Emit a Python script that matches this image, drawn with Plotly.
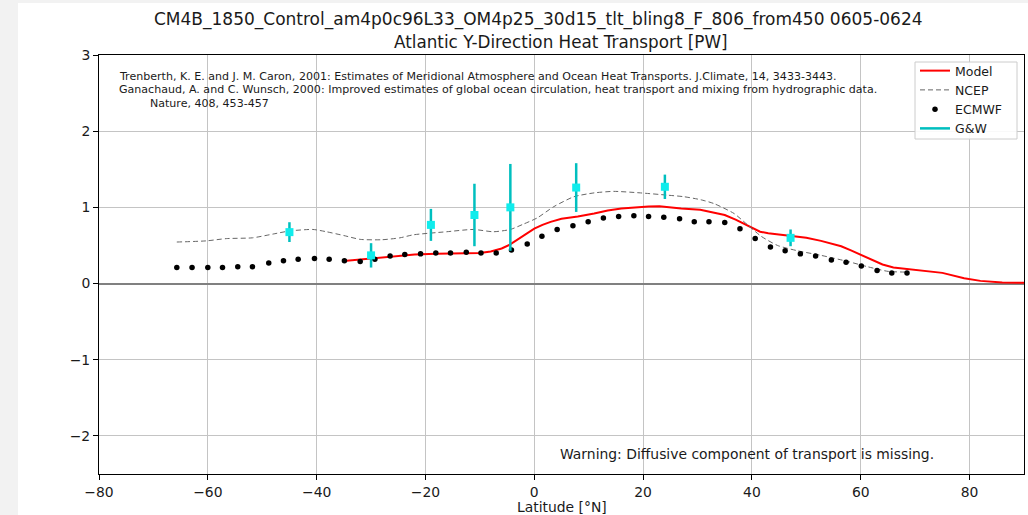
import plotly.graph_objects as go

# ---------------- data ----------------
model_lat = [-34.5, -30, -26, -22, -18, -14, -10, -8, -6, -4.5, -3, -1.5, 0, 1.5, 3, 5, 8, 11,
             13.5, 16, 18.5, 21, 23, 25, 27, 30.5, 33, 35, 37, 38.5, 40, 41.5, 43, 45, 47.5,
             50, 52.7, 55, 56.4, 58.2, 60, 62, 64, 66, 70, 75, 79, 82, 86, 90]
model_val = [0.30, 0.33, 0.355, 0.38, 0.39, 0.395, 0.40, 0.42, 0.46, 0.51, 0.58, 0.66, 0.72,
             0.77, 0.81, 0.85, 0.88, 0.92, 0.96, 0.985, 1.00, 1.01, 1.015, 1.00, 0.985, 0.97,
             0.93, 0.90, 0.84, 0.79, 0.73, 0.68, 0.66, 0.645, 0.625, 0.60, 0.56, 0.52, 0.49,
             0.435, 0.38, 0.31, 0.25, 0.21, 0.18, 0.14, 0.07, 0.035, 0.015, 0.01]

ncep_lat = [-65.7, -60.3, -56.6, -51.8, -48, -45, -40.7, -38.2, -35, -32, -28, -24.7, -22.2,
            -16.1, -11.2, -7.5, -4.4, -2, 0.5, 3.6, 7.3, 11, 14.6, 19.5, 24.5, 27.5, 30.6, 33,
            36.7, 39.2, 41.7, 44.7, 48.4, 52.7, 57.6, 61.3, 65, 68.7]
ncep_val = [0.545, 0.56, 0.59, 0.60, 0.65, 0.69, 0.71, 0.68, 0.63, 0.58, 0.575, 0.60, 0.64,
            0.68, 0.71, 0.68, 0.71, 0.78, 0.86, 1.01, 1.14, 1.19, 1.21, 1.19, 1.16, 1.14, 1.10,
            1.05, 0.92, 0.77, 0.62, 0.50, 0.43, 0.37, 0.29, 0.22, 0.16, 0.15]

ecmwf_lat = [-65.7, -62.9, -60.0, -57.3, -54.5, -51.8, -48.8, -46.1, -43.4, -40.4, -37.7,
             -34.9, -32.0, -29.3, -26.5, -23.8, -20.9, -18.1, -15.4, -12.5, -9.8, -7.0, -4.2,
             -1.3, 1.4, 4.2, 7.1, 9.9, 12.7, 15.5, 18.3, 21.0, 23.8, 26.7, 29.4, 32.1, 35.0,
             37.8, 40.6, 43.4, 46.1, 48.9, 51.7, 54.6, 57.3, 60.1, 63.0, 65.7, 68.5]
ecmwf_val = [0.21, 0.21, 0.21, 0.21, 0.22, 0.22, 0.27, 0.30, 0.32, 0.33, 0.32, 0.30, 0.29,
             0.32, 0.36, 0.38, 0.39, 0.40, 0.40, 0.41, 0.40, 0.40, 0.44, 0.52, 0.62, 0.71,
             0.76, 0.81, 0.86, 0.88, 0.89, 0.88, 0.87, 0.85, 0.81, 0.81, 0.80, 0.72, 0.59,
             0.48, 0.43, 0.39, 0.36, 0.31, 0.28, 0.23, 0.17, 0.14, 0.14]

gw_lat = [-45, -30, -19, -11, -4.4, 7.7, 24, 47.1]
gw_val = [0.675, 0.37, 0.77, 0.90, 1.00, 1.26, 1.27, 0.60]
gw_err = [0.13, 0.16, 0.21, 0.41, 0.57, 0.32, 0.16, 0.11]

x_ticks = [-80, -60, -40, -20, 0, 20, 40, 60, 80]
y_ticks = [-2, -1, 0, 1, 2, 3]

title_1 = "CM4B_1850_Control_am4p0c96L33_OM4p25_30d15_tlt_bling8_F_806_from450 0605-0624"
title_2 = "Atlantic Y-Direction Heat Transport [PW]"
ref_1 = ("Trenberth, K. E. and J. M. Caron, 2001: Estimates of Meridional Atmosphere and "
         "Ocean Heat Transports. J.Climate, 14, 3433-3443.")
ref_2 = ("Ganachaud, A. and C. Wunsch, 2000: Improved estimates of global ocean circulation, "
         "heat transport and mixing from hydrographic data.")
ref_3 = "Nature, 408, 453-457"
warning = "Warning: Diffusive component of transport is missing."
xlabel = "Latitude [°N]"

# ---------------- layout geometry ----------------
W, H = 1028, 515
L, R, T, B = 99, 4, 55, 41
PW, PH = W - L - R, H - T - B


def px_x(p):
    return (p - L) / PW


def px_y(p):
    return (H - B - p) / PH


FONT = "DejaVu Sans"
TXT = "#1a1a1a"

fig = go.Figure()
fig.add_trace(go.Scatter(x=model_lat, y=model_val, mode="lines", name="Model",
                         line=dict(color="#ff0000", width=2)))
fig.add_trace(go.Scatter(x=ncep_lat, y=ncep_val, mode="lines", name="NCEP",
                         line=dict(color="#666666", width=1, dash="5px,3px", shape="spline",
                                   smoothing=0.6)))
fig.add_trace(go.Scatter(x=ecmwf_lat, y=ecmwf_val, mode="markers", name="ECMWF",
                         marker=dict(color="black", size=5.5)))
fig.add_trace(go.Scatter(x=[None], y=[None], mode="lines", name="G&W",
                         line=dict(color="#00bfbf", width=2.5)))
fig.add_trace(go.Scatter(x=gw_lat, y=gw_val, mode="markers", name="G&W", showlegend=False,
                         marker=dict(symbol="square", size=8, color="#10ecec"),
                         error_y=dict(type="data", array=gw_err, color="#00bfbf",
                                      thickness=2.5, width=0)))

annotations = [
    dict(text=title_1, x=px_x(538), y=px_y(20), xref="paper", yref="paper",
         xanchor="center", yanchor="middle", showarrow=False,
         font=dict(family=FONT, size=17, color=TXT)),
    dict(text=title_2, x=px_x(561), y=px_y(42), xref="paper", yref="paper",
         xanchor="center", yanchor="middle", showarrow=False,
         font=dict(family=FONT, size=16.8, color=TXT)),
    dict(text=ref_1, x=px_x(117), y=px_y(76), xref="paper", yref="paper",
         xanchor="left", yanchor="middle", showarrow=False,
         font=dict(family=FONT, size=11.05, color=TXT)),
    dict(text=ref_2, x=px_x(117), y=px_y(90), xref="paper", yref="paper",
         xanchor="left", yanchor="middle", showarrow=False,
         font=dict(family=FONT, size=11.05, color=TXT)),
    dict(text=ref_3, x=px_x(148), y=px_y(103), xref="paper", yref="paper",
         xanchor="left", yanchor="middle", showarrow=False,
         font=dict(family=FONT, size=11.05, color=TXT)),
    dict(text=warning, x=px_x(558), y=px_y(454), xref="paper", yref="paper",
         xanchor="left", yanchor="middle", showarrow=False,
         font=dict(family=FONT, size=13.9, color=TXT)),
    dict(text=xlabel, x=0.5, y=px_y(507), xref="paper", yref="paper",
         xanchor="center", yanchor="middle", showarrow=False,
         font=dict(family=FONT, size=13.9, color=TXT)),
]

shapes = [
    dict(type="rect", xref="paper", yref="paper", layer="below",
         x0=px_x(18), x1=px_x(W + 10), y0=px_y(H + 10), y1=px_y(3),
         fillcolor="white", line=dict(width=0)),
    # legend frame
    dict(type="rect", xref="paper", yref="paper", layer="above",
         x0=px_x(915), x1=px_x(1017), y0=px_y(139), y1=px_y(62),
         fillcolor="rgba(255,255,255,0.9)", line=dict(color="#cccccc", width=1)),
]

fig.update_layout(
    width=W, height=H,
    margin=dict(l=L, r=R, t=T, b=B, pad=0),
    paper_bgcolor="#f2f2f2",
    plot_bgcolor="white",
    font=dict(family=FONT, size=13.9, color=TXT),
    showlegend=True,
    legend=dict(x=px_x(915), y=px_y(56), xanchor="left", yanchor="top",
                bgcolor="rgba(0,0,0,0)", borderwidth=0,
                font=dict(family=FONT, size=12.5, color=TXT), tracegroupgap=0,
                itemwidth=30),
    annotations=annotations,
    shapes=shapes,
    xaxis=dict(range=[-80, 90], tickvals=x_ticks, showgrid=True, gridcolor="#c4c4c4",
               gridwidth=1, zeroline=False, showline=True, linecolor="black", linewidth=1,
               mirror=True, ticks="outside", ticklen=5, tickcolor="black",
               tickfont=dict(family=FONT, size=13.9, color=TXT)),
    yaxis=dict(range=[-2.5, 3], tickvals=y_ticks, showgrid=True, gridcolor="#c4c4c4",
               gridwidth=1, zeroline=True, zerolinecolor="#808080", zerolinewidth=1.6,
               showline=True, linecolor="black", linewidth=1, mirror=True,
               ticks="outside", ticklen=5, tickcolor="black",
               tickfont=dict(family=FONT, size=13.9, color=TXT)),
)

fig.write_html("out.html")
